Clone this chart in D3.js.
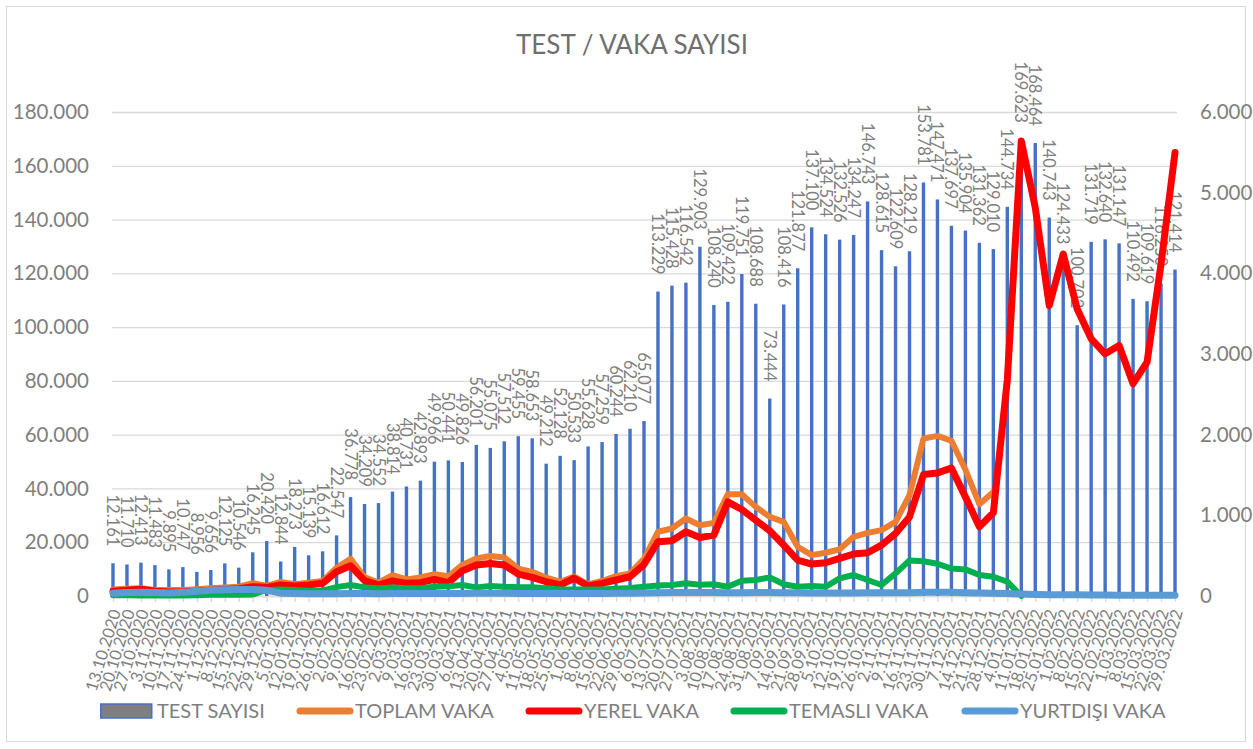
<!DOCTYPE html>
<html><head><meta charset="utf-8">
<script src="https://cdn.jsdelivr.net/npm/d3@7"></script>
<style>
body{margin:0;background:#fff}
svg{display:block}
text{font-family:Lato,"Open Sans",sans-serif}
</style>
</head><body>
<svg id="c" width="1253" height="749"></svg>
<script>
const dates = ["13.10.2020","20.10.2020","27.10.2020","3.11.2020","10.11.2020","17.11.2020","24.11.2020","1.12.2020","8.12.2020","15.12.2020","22.12.2020","29.12.2020",
"5.01.2021","12.01.2021","19.01.2021","26.01.2021","2.02.2021","9.02.2021","16.02.2021","23.02.2021","2.03.2021","9.03.2021","16.03.2021","23.03.2021","30.03.2021",
"6.04.2021","13.04.2021","20.04.2021","27.04.2021","4.05.2021","11.05.2021","18.05.2021","25.05.2021","1.06.2021","8.06.2021","15.06.2021","22.06.2021","29.06.2021",
"6.07.2021","13.07.2021","20.07.2021","27.07.2021","3.08.2021","10.08.2021","17.08.2021","24.08.2021","31.08.2021","7.09.2021","14.09.2021","21.09.2021","28.09.2021",
"5.10.2021","12.10.2021","19.10.2021","26.10.2021","2.11.2021","9.11.2021","16.11.2021","23.11.2021","30.11.2021","7.12.2021","14.12.2021","21.12.2021","28.12.2021",
"4.01.2022","11.01.2022","18.01.2022","25.01.2022","1.02.2022","8.02.2022","15.02.2022","22.02.2022","1.03.2022","8.03.2022","15.03.2022","22.03.2022","29.03.2022"];

const testSayisi = [12161,11710,12413,11483,9895,10747,8956,9656,12125,10546,
16245,20420,12844,18273,15139,16612,22547,36778,34209,34552,
38814,40731,42893,49966,50441,49826,56201,55075,57512,59455,
58653,49212,52128,50533,55628,57259,60244,62210,65077,113229,
115428,116542,129903,108240,109422,119751,108688,73444,108416,121877,
137100,134524,132526,134247,146743,128615,122609,128219,153781,147471,
137697,135904,131362,129010,144734,169623,168464,140743,124433,100702,
131719,132640,131147,110492,109619,116250,121414];

const toplamVaka = [80,90,95,75,75,75,85,95,105,115,
160,125,175,145,165,185,350,460,235,165,
260,205,230,270,245,385,465,495,478,340,
300,227,177,240,145,186,247,280,460,796,
837,961,878,907,1262,1262,1105,981,919,610,
507,536,578,734,783,817,919,1250,1951,1985,
1925,1567,1138,1290];

const yerelVaka = [60,70,85,60,50,50,60,70,80,90,
115,107,136,124,136,157,301,375,190,136,
188,157,165,206,165,313,384,404,384,272,
231,177,136,220,124,157,198,239,390,672,
685,796,726,755,1167,1072,940,808,631,445,
396,412,466,520,536,631,775,980,1505,1526,
1585,1229,858,1031,2680,5641,4816,3600,4240,3559,
3188,3003,3105,2632,2899,4116,5497];

const temasliVaka = [10,10,5,5,5,5,10,15,15,15,
20,75,80,75,65,65,110,136,107,95,
105,95,95,115,120,136,107,124,115,110,
110,95,82,82,80,82,90,100,115,130,
136,157,140,146,115,190,198,231,146,115,
124,115,219,260,198,136,280,440,430,400,
340,330,260,239,177,0];

const yurtdisiVaka = [35,42,48,44,38,45,60,72,78,80,
80,70,35,30,28,28,28,30,30,28,
30,30,30,32,32,32,35,35,35,32,
30,30,30,30,30,32,35,35,38,40,
42,42,42,42,40,40,42,42,40,40,
38,38,38,38,40,40,40,40,45,45,
45,40,38,35,30,25,20,15,15,15,
12,12,10,10,10,8,8];

const leftTicks = [0,20000,40000,60000,80000,100000,120000,140000,160000,180000];
const rightTicks = [0,1000,2000,3000,4000,5000,6000];
const chartTitle = "TEST / VAKA SAYISI";
const seriesNames = ["TEST SAYISI","TOPLAM VAKA","YEREL VAKA","TEMASLI VAKA","YURTDIŞI VAKA"];
const seriesColors = ["#4472c4","#ed7d31","#ff0000","#00b050","#5b9bd5"];

const grey = "#7f7f7f";
const svg = d3.select("#c");
svg.append("rect").attr("x",6.5).attr("y",6.5).attr("width",1239).attr("height",735)
  .attr("fill","#fff").attr("stroke","#d9d9d9");

const plotL = 112, plotR = 1177, base = 596, plotTop = 112;
const x = d3.scalePoint().domain(dates).range([113,1175]);
const yL = d3.scaleLinear().domain([0,180000]).range([base,plotTop]);
const yR = d3.scaleLinear().domain([0,6000]).range([base,plotTop]);
const loc = d3.formatLocale({decimal:",",thousands:".",grouping:[3],currency:["",""]});
const fmt = loc.format(",d");

// title
svg.append("text").attr("x",632).attr("y",54).attr("text-anchor","middle")
  .attr("font-size",26).attr("fill","#6f6f6f").text(chartTitle);

// gridlines
const grid = svg.append("g").attr("transform",`translate(${plotL},0)`)
  .call(d3.axisLeft(yL).tickValues(leftTicks).tickSize(-(plotR-plotL)).tickFormat(""));
grid.select(".domain").remove();
grid.selectAll("line").attr("stroke","#d9d9d9").attr("stroke-width",1.3);

// left axis labels
const la = svg.append("g").attr("transform","translate(89,0)")
  .call(d3.axisLeft(yL).tickValues(leftTicks).tickSize(0).tickPadding(0).tickFormat(fmt));
la.select(".domain").remove();
la.selectAll("text").attr("font-size",20.5).attr("fill",grey).attr("font-family","Lato");

// right axis labels
const ra = svg.append("g").attr("transform","translate(1200,0)")
  .call(d3.axisRight(yR).tickValues(rightTicks).tickSize(0).tickPadding(0).tickFormat(fmt));
ra.select(".domain").remove();
ra.selectAll("text").attr("font-size",20.5).attr("fill",grey).attr("font-family","Lato");

// x axis
const xa = svg.append("g").attr("transform",`translate(0,${base})`)
  .call(d3.axisBottom(x).tickSize(6).tickSizeOuter(0));
xa.select(".domain").attr("stroke","#d9d9d9").attr("stroke-width",1.3);
xa.selectAll("line").attr("stroke","#d9d9d9").attr("stroke-width",1.3);
xa.selectAll("text").attr("x",0).attr("y",0).attr("dy","0.35em")
  .attr("text-anchor","end").attr("transform","translate(2,14) rotate(-73)")
  .attr("font-size",16.5).attr("fill",grey).attr("font-family","Lato");

// bars
svg.append("g").selectAll("rect").data(testSayisi).join("rect")
  .attr("x",(d,i)=>x(dates[i])-1.7).attr("width",3.4)
  .attr("y",d=>yL(d)).attr("height",d=>base-yL(d))
  .attr("fill",seriesColors[0]);

// bar labels
svg.append("g").selectAll("text").data(testSayisi).join("text")
  .attr("transform",(d,i)=>`translate(${x(dates[i])},${yL(d)-17}) rotate(90)`)
  .attr("text-anchor","end").attr("dy","0.36em")
  .attr("font-size",16.5).attr("fill",grey).text(d=>fmt(d));

// lines
const line = d3.line().x((d,i)=>x(dates[i])).y(d=>yR(d));
const lineSeries = [
  {v:toplamVaka, c:seriesColors[1], w:6},
  {v:yerelVaka, c:seriesColors[2], w:7},
  {v:temasliVaka, c:seriesColors[3], w:6},
  {v:yurtdisiVaka, c:seriesColors[4], w:7}
];
svg.append("g").selectAll("path").data(lineSeries).join("path")
  .attr("d",s=>line(s.v)).attr("fill","none")
  .attr("stroke",s=>s.c).attr("stroke-width",s=>s.w)
  .attr("stroke-linejoin","round").attr("stroke-linecap","round");

// legend
const lg = svg.append("g").attr("transform","translate(0,711)");
const legendPos = [100,297,526,731,962];
seriesNames.forEach((n,i)=>{
  const g = lg.append("g").attr("transform",`translate(${legendPos[i]},0)`);
  if(i===0){
    g.append("rect").attr("x",0.75).attr("y",-7).attr("width",51).attr("height",14)
      .attr("fill","#7f7f7f").attr("stroke",seriesColors[0]).attr("stroke-width",1.5);
    g.append("text").attr("x",57).attr("dy","0.36em").attr("font-size",20).attr("fill",grey).text(n);
  } else {
    g.append("line").attr("x1",3).attr("x2",53).attr("y1",0).attr("y2",0)
      .attr("stroke",seriesColors[i]).attr("stroke-width",7).attr("stroke-linecap","round");
    g.append("text").attr("x",58).attr("dy","0.36em").attr("font-size",20).attr("fill",grey).text(n);
  }
});
</script>
</body></html>
